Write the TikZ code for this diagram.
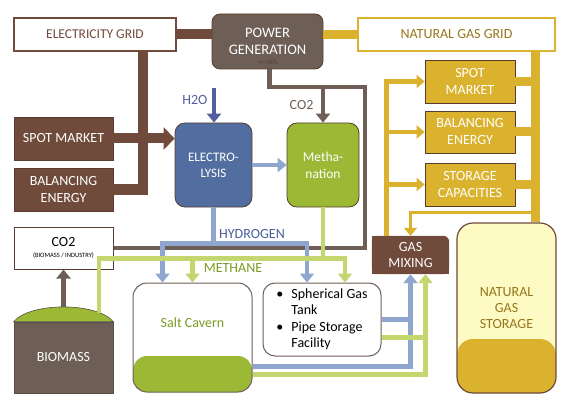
\documentclass[tikz,border=0pt]{standalone}
\usepackage{fontspec}
\setmainfont{Carlito}
\usepackage{xcolor}
\usepackage{tikz}
\usetikzlibrary{arrows.meta, backgrounds}
\definecolor{elecbrown}{RGB}{112,74,58}
\definecolor{greybrown}{RGB}{110,95,86}
\definecolor{darkedge}{RGB}{88,60,46}
\definecolor{gasgold}{RGB}{219,178,46}
\definecolor{goldtext}{RGB}{150,118,28}
\definecolor{lysisblue}{RGB}{82,110,160}
\definecolor{hydroblue}{RGB}{143,167,206}
\definecolor{hydrotext}{RGB}{70,95,150}
\definecolor{waterblue}{RGB}{85,92,160}
\definecolor{methgreen}{RGB}{155,185,52}
\definecolor{methline}{RGB}{196,214,110}
\definecolor{methtext}{RGB}{125,155,35}
\definecolor{paleyellow}{RGB}{254,250,195}
\tikzset{
    gridbox/.style={rectangle, draw, line width=1.2pt, fill=white, minimum height=33pt, inner sep=0pt, font=\fontsize{13.5}{15}\selectfont},
    marketbox/.style={rectangle, draw=darkedge, line width=0.8pt, fill=elecbrown, text=white, minimum width=99pt, minimum height=43pt, inner sep=0pt, align=center, font=\fontsize{14}{17}\selectfont},
    gasbox/.style={marketbox, fill=gasgold, minimum width=90pt},
    processbox/.style={rectangle, rounded corners=10pt, draw=darkedge, line width=0.8pt, minimum height=84pt, inner sep=0pt, text=white, align=center},
    storebox/.style={rectangle, draw=greybrown, line width=1pt, fill=white, inner sep=0pt},
    elecline/.style={draw=elecbrown, line width=10pt},
    elecarrow/.style={elecline, -{Triangle[length=11pt, width=22pt]}},
    gasline/.style={draw=gasgold, line width=9pt},
    gasarrow/.style={draw=gasgold, line width=4.5pt, -{Triangle[length=8pt, width=13pt]}},
    co2line/.style={draw=greybrown, line width=4.5pt},
    co2arrow/.style={co2line, -{Triangle[length=9pt, width=14pt]}},
    h2line/.style={draw=hydroblue, line width=4.5pt},
    h2arrow/.style={h2line, -{Triangle[length=9pt, width=14pt]}},
    ch4line/.style={draw=methline, line width=4.5pt},
    ch4arrow/.style={ch4line, -{Triangle[length=9pt, width=14pt]}},
    labelstyle/.style={font=\fontsize{14}{16}\selectfont},
}

\begin{document}
\begin{tikzpicture}[x=1pt, y=-1pt]
    \useasboundingbox (0,0) rectangle (567,406);

    % Nodes
    \node[gridbox, draw=elecbrown, text=elecbrown, minimum width=162pt] (elec) at (95,34.5) {ELECTRICITY GRID};
    \node[processbox, fill=greybrown, minimum width=111pt, minimum height=55pt, rounded corners=8pt, font=\fontsize{14.5}{16.5}\selectfont] (power) at (267.5,41.5) {POWER\\GENERATION};
    \node[text=darkedge, font=\fontsize{7}{8}\selectfont, inner sep=0pt] (eta) at (268,63) {$\eta$=36\%};
    \node[gridbox, draw=gasgold, text=goldtext, minimum width=197pt, font=\fontsize{14}{16}\selectfont] (natgrid) at (456.5,34.5) {NATURAL GAS GRID};

    \node[marketbox] (spot) at (63.5,138.5) {SPOT MARKET};
    \node[marketbox] (balance) at (63.5,189.5) {BALANCING\\ENERGY};

    \node[processbox, fill=lysisblue, minimum width=77pt, font=\fontsize{13}{16}\selectfont] (elys) at (213.5,165) {ELECTRO-\\LYSIS};
    \node[processbox, fill=methgreen, minimum width=72pt, font=\fontsize{13.5}{17}\selectfont] (meth) at (323,165) {Metha-\\nation};

    \node[gasbox] (spotg) at (470,81.5) {SPOT\\MARKET};
    \node[gasbox, minimum height=42pt] (balg) at (470,132) {BALANCING\\ENERGY};
    \node[gasbox] (storeg) at (470,184.5) {STORAGE\\CAPACITIES};

    \node[storebox, draw=darkedge, minimum width=99pt, minimum height=42pt, align=center] (co2) at (63.5,248) {{\fontsize{14}{15}\selectfont CO2}\\[-1pt]{\fontsize{6.5}{7}\selectfont (BIOMASS / INDUSTRY)}};
    \node[rectangle, fill=greybrown, draw=greybrown!80!black, line width=0.6pt, minimum width=99pt, minimum height=71pt, text=white, font=\fontsize{14}{16}\selectfont] (biomass) at (63.5,357.5) {BIOMASS};
    \filldraw[methgreen, draw=greybrown!80!black, line width=0.6pt] (biomass.north west) .. controls (30,302) and (97,302) .. (biomass.north east) -- cycle;
    \coordinate (biotop) at (63.5,307);
    \coordinate (biogas) at (99,313);

    \node[storebox, rounded corners=14pt, minimum width=119pt, minimum height=109pt,
          path picture={\fill[methgreen] (path picture bounding box.south west) rectangle ([yshift=36pt]path picture bounding box.south east);},
          label={[text=methtext, font=\fontsize{14}{16}\selectfont, yshift=15pt]center:Salt Cavern}] (cavern) at (192.5,337.5) {};
    \node[storebox, rounded corners=12pt, minimum width=118pt, minimum height=73pt, align=left, font=\fontsize{14}{16.5}\selectfont] (tank) at (322,319.5)
        {\makebox[15pt][l]{\textbullet}Spherical Gas\\\hspace*{15pt}Tank\\\makebox[15pt][l]{\textbullet}Pipe Storage\\\hspace*{15pt}Facility};

    \node[text=white, minimum width=77pt, minimum height=38pt, inner sep=0pt, align=center, font=\fontsize{14}{16}\selectfont] (mixing) at (410.5,255) {GAS\\MIXING};
    \begin{pgfonlayer}{background}
        \fill[elecbrown, rounded corners=6pt] (mixing.south west) rectangle (mixing.north east);
        \fill[elecbrown] (mixing.south west) rectangle ([xshift=-8pt]mixing.north east);
        \fill[elecbrown] (mixing.south west) rectangle ([yshift=-8pt]mixing.north east);
    \end{pgfonlayer}
    \coordinate (mixin) at ([xshift=15pt]mixing.south);

    \node[storebox, draw=elecbrown, line width=1.2pt, rounded corners=16pt, fill=paleyellow, minimum width=99pt, minimum height=170pt, align=center, text=goldtext, font=\fontsize{14}{16}\selectfont,
          path picture={\fill[gasgold] (path picture bounding box.south west) rectangle ([yshift=54pt]path picture bounding box.south east);}] (ngstore) at (506.5,308) {NATURAL\\GAS\\STORAGE};

    % Electricity
    \draw[elecline] (elec.east) -- (elec.east -| power.west);
    \draw[elecline] ([xshift=-34pt]elec.south east) |- (balance.east);
    \draw[elecarrow] (spot.east) -- (spot.east -| elys.west);

    % Natural gas
    \coordinate (bus) at ([xshift=-20pt]natgrid.south east);
    \draw[gasline] (natgrid.west -| power.east) -- (natgrid.west);
    \draw[gasline] (bus) -- (bus |- ngstore.north);
    \foreach \gb in {spotg, balg, storeg}
        \draw[gasline] (\gb.east) -- (\gb.east -| bus);
    \foreach \gb in {spotg, balg, storeg}
        \draw[gasarrow] ([xshift=-24pt]mixing.north) |- (\gb.west);
    \draw[gasarrow, line width=3.5pt] ([yshift=-6pt]storeg.south -| bus) -| (mixing.north);

    % CO2
    \coordinate (co2turn) at (365,87);
    \draw[co2line] (co2.east) -| (co2turn) -| ([xshift=2pt]power.south);
    \draw[co2arrow] (co2turn -| meth.north) -- node[labelstyle, text=greybrown, left=4pt] {CO2} (meth.north);
    \draw[co2arrow, line width=5.5pt] (co2.south |- biotop) -- (co2.south);

    % Water and hydrogen
    \coordinate (h2o) at (214,88);
    \draw[h2arrow, draw=waterblue] (h2o) -- (h2o |- elys.north);
    \node[labelstyle, text=waterblue, left=3pt] at ([yshift=-12pt]h2o) {H2O};
    \draw[h2arrow] (elys.east) -- (meth.west);
    \draw[h2line] (elys.south) -- ++(0,36) coordinate (hjoin);
    \draw[h2arrow] (hjoin) -| ([xshift=-30pt]cavern.north);
    \draw[h2arrow] (hjoin) -| ([xshift=-15pt]tank.north);
    \node[labelstyle, text=hydrotext] at (252,234) {HYDROGEN};

    % Methane
    \draw[ch4line] (meth.south) -- ++(0,51) coordinate (mjoin);
    \draw[ch4line] (mjoin) -| (biogas);
    \draw[ch4arrow] (mjoin) -| (cavern.north);
    \draw[ch4arrow] (mjoin) -| ([xshift=23pt]tank.north);
    \node[labelstyle, text=methtext] at (233,268) {METHANE};

    % To gas mixing
    \draw[h2arrow] ([yshift=26pt]cavern.south east) -| (mixing.south);
    \draw[h2line] (tank.east) -- (tank.east -| mixing.south);
    \draw[ch4arrow] ([yshift=18pt]cavern.south east) -| (mixin);
    \draw[ch4line] ([yshift=-18pt]tank.east) -- ([yshift=-18pt]tank.east -| mixin);

\end{tikzpicture}
\end{document}
